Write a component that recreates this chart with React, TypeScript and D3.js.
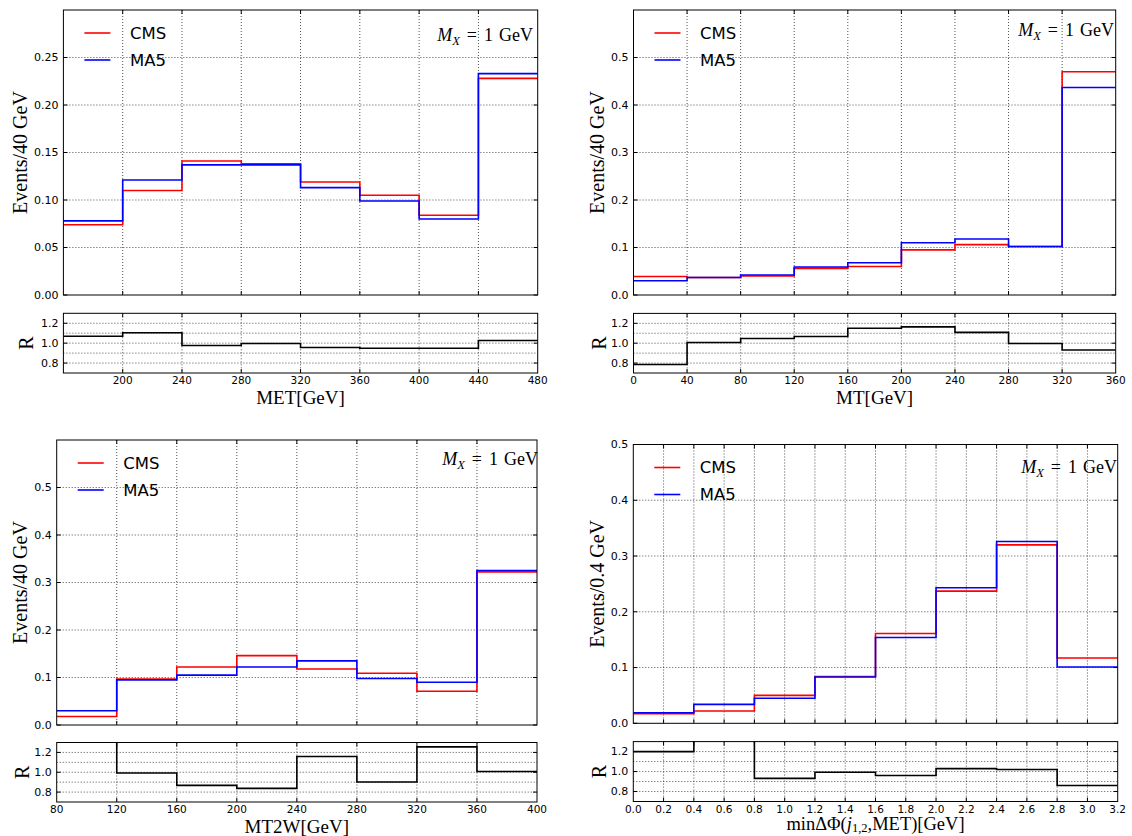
import React from 'react';
import * as d3 from 'd3';

// bin edges (tick values) and normalised event counts
const metEdges = [160, 200, 240, 280, 320, 360, 400, 440, 480];
const metCMS = [0.074, 0.110, 0.141, 0.138, 0.119, 0.105, 0.084, 0.228];
const metMA5 = [0.078, 0.121, 0.137, 0.137, 0.113, 0.099, 0.080, 0.233];
const metR = [1.07, 1.105, 0.976, 0.997, 0.956, 0.949, 0.949, 1.027];

const mtEdges = [0, 40, 80, 120, 160, 200, 240, 280, 320, 360];
const mtCMS = [0.039, 0.037, 0.040, 0.056, 0.060, 0.095, 0.106, 0.102, 0.470];
const mtMA5 = [0.030, 0.037, 0.042, 0.059, 0.068, 0.110, 0.118, 0.102, 0.437];
const mtR = [0.785, 1.007, 1.048, 1.068, 1.15, 1.164, 1.109, 0.997, 0.932];

const mt2wEdges = [80, 120, 160, 200, 240, 280, 320, 360, 400];
const mt2wCMS = [0.018, 0.097, 0.122, 0.146, 0.118, 0.109, 0.071, 0.322];
const mt2wMA5 = [0.030, 0.095, 0.105, 0.122, 0.135, 0.098, 0.090, 0.325];
const mt2wR = [1.68, 0.993, 0.868, 0.837, 1.159, 0.902, 1.256, 1.007];

const dphiEdges = [0, 0.4, 0.8, 1.2, 1.6, 2.0, 2.4, 2.8, 3.2];
const dphiCMS = [0.017, 0.022, 0.050, 0.084, 0.161, 0.237, 0.320, 0.117];
const dphiMA5 = [0.019, 0.034, 0.045, 0.083, 0.154, 0.243, 0.326, 0.101];
const dphiR = [1.20, 1.55, 0.932, 0.993, 0.961, 1.029, 1.021, 0.861];

const yTicks025 = [0, 0.05, 0.1, 0.15, 0.2, 0.25];
const yTicks05 = [0, 0.1, 0.2, 0.3, 0.4, 0.5];
const rTicks = [0.8, 1.0, 1.2];
const rGrid = [0.8, 0.9, 1.0, 1.1, 1.2];
const dphiTicks = [0, 0.2, 0.4, 0.6, 0.8, 1.0, 1.2, 1.4, 1.6, 1.8, 2.0, 2.2, 2.4, 2.6, 2.8, 3.0, 3.2];

const SERIF = '"Liberation Serif", "Times New Roman", serif';
const SANS = '"DejaVu Sans", "Bitstream Vera Sans", sans-serif';

const panels = [
  {
    id: 'met', edges: metEdges, cms: metCMS, ma5: metMA5, ratio: metR,
    yMax: 0.3, yTicks: yTicks025, yFmt: d3.format('.2f'),
    xTicks: metEdges, xLabels: metEdges.slice(1), xFmt: d3.format('d'),
    ylabel: 'Events/40 GeV', xlabel: 'MET[GeV]',
    box: { x0: 63.4, x1: 537.7, top: 10, bot: 295, rTop: 313.3, rBot: 373 },
    ylabelX: 20, rlabelX: 26, mx: { x: 533, y: 35 },
  },
  {
    id: 'mt', edges: mtEdges, cms: mtCMS, ma5: mtMA5, ratio: mtR,
    yMax: 0.6, yTicks: yTicks05, yFmt: d3.format('.1f'),
    xTicks: mtEdges, xLabels: mtEdges, xFmt: d3.format('d'),
    ylabel: 'Events/40 GeV', xlabel: 'MT[GeV]',
    box: { x0: 633.5, x1: 1115.7, top: 10, bot: 295, rTop: 313.4, rBot: 373 },
    ylabelX: 597, rlabelX: 599, mx: { x: 1114, y: 30 },
  },
  {
    id: 'mt2w', edges: mt2wEdges, cms: mt2wCMS, ma5: mt2wMA5, ratio: mt2wR,
    yMax: 0.6, yTicks: yTicks05, yFmt: d3.format('.1f'),
    xTicks: mt2wEdges, xLabels: mt2wEdges, xFmt: d3.format('d'),
    ylabel: 'Events/40 GeV', xlabel: 'MT2W[GeV]',
    box: { x0: 56.7, x1: 537, top: 440, bot: 725, rTop: 742.5, rBot: 802 },
    ylabelX: 20, rlabelX: 22, mx: { x: 538, y: 459 },
  },
  {
    id: 'dphi', edges: dphiEdges, cms: dphiCMS, ma5: dphiMA5, ratio: dphiR,
    yMax: 0.5, yTicks: yTicks05, yFmt: d3.format('.1f'),
    xTicks: dphiTicks, xLabels: dphiTicks, xFmt: d3.format('.1f'),
    ylabel: 'Events/0.4 GeV', xlabel: 'dphi',
    box: { x0: 633.3, x1: 1117.7, top: 444.5, bot: 723.3, rTop: 741.6, rBot: 801.5 },
    ylabelX: 597, rlabelX: 599, mx: { x: 1117, y: 467 },
  },
];

function stepPath(edges, values, x, y) {
  const pts = values.map((v, i) => [edges[i], v]);
  pts.push([edges[edges.length - 1], values[values.length - 1]]);
  const line = d3.line().x(d => x(d[0])).y(d => y(d[1])).curve(d3.curveStepAfter);
  return line(pts);
}

const gridStyle = { stroke: '#000', strokeWidth: 0.7, strokeDasharray: '1 2', fill: 'none' };

function Panel({ p }) {
  const b = p.box;
  const lo = p.edges[0], hi = p.edges[p.edges.length - 1];
  const x = d3.scaleLinear().domain([lo, hi]).range([b.x0, b.x1]);
  const y = d3.scaleLinear().domain([0, p.yMax]).range([b.bot, b.top]);
  const yr = d3.scaleLinear().domain([0.7, 1.3]).range([b.rBot, b.rTop]);
  const innerX = p.xTicks.filter(t => t > lo + 1e-9 && t < hi - 1e-9);
  const innerY = p.yTicks.filter(t => t > 0 && t < p.yMax - 1e-9);
  const tl = 4;

  return (
    <g>
      <defs>
        <clipPath id={`clip-main-${p.id}`}>
          <rect x={b.x0} y={b.top} width={b.x1 - b.x0} height={b.bot - b.top} />
        </clipPath>
        <clipPath id={`clip-r-${p.id}`}>
          <rect x={b.x0} y={b.rTop} width={b.x1 - b.x0} height={b.rBot - b.rTop} />
        </clipPath>
      </defs>

      {/* main plot grid */}
      {innerX.map(t => (
        <line key={'gx' + t} x1={x(t)} x2={x(t)} y1={b.top} y2={b.bot} style={gridStyle} />
      ))}
      {innerY.map(t => (
        <line key={'gy' + t} x1={b.x0} x2={b.x1} y1={y(t)} y2={y(t)} style={gridStyle} />
      ))}

      {/* histograms */}
      <g clipPath={`url(#clip-main-${p.id})`}>
        <path d={stepPath(p.edges, p.cms, x, y)} fill="none" stroke="#ff0000" strokeWidth={1.6} />
        <path d={stepPath(p.edges, p.ma5, x, y)} fill="none" stroke="#0000ff" strokeWidth={1.6} />
      </g>

      {/* ticks main */}
      {innerX.map(t => (
        <g key={'tx' + t}>
          <line x1={x(t)} x2={x(t)} y1={b.bot} y2={b.bot - tl} stroke="#000" />
          <line x1={x(t)} x2={x(t)} y1={b.top} y2={b.top + tl} stroke="#000" />
        </g>
      ))}
      {p.yTicks.map(t => (
        <g key={'ty' + t}>
          <line x1={b.x0} x2={b.x0 + tl} y1={y(t)} y2={y(t)} stroke="#000" />
          <line x1={b.x1} x2={b.x1 - tl} y1={y(t)} y2={y(t)} stroke="#000" />
          <text x={b.x0 - 5} y={y(t)} dy="0.35em" textAnchor="end" fontFamily={SANS} fontSize={11}>
            {p.yFmt(t)}
          </text>
        </g>
      ))}
      <rect x={b.x0} y={b.top} width={b.x1 - b.x0} height={b.bot - b.top} fill="none" stroke="#000" strokeWidth={1} />

      {/* legend */}
      <line x1={b.x0 + 21} x2={b.x0 + 47} y1={b.top + 23} y2={b.top + 23} stroke="#ff0000" strokeWidth={1.6} />
      <text x={b.x0 + 66.5} y={b.top + 23} dy="0.35em" fontFamily={SANS} fontSize={16.5}>CMS</text>
      <line x1={b.x0 + 21} x2={b.x0 + 47} y1={b.top + 50} y2={b.top + 50} stroke="#0000ff" strokeWidth={1.6} />
      <text x={b.x0 + 66.5} y={b.top + 50} dy="0.35em" fontFamily={SANS} fontSize={16.5}>MA5</text>

      {/* M_X annotation */}
      <text x={p.mx.x} y={p.mx.y + 6} textAnchor="end" fontFamily={SERIF} fontSize={18}>
        <tspan fontStyle="italic">M</tspan>
        <tspan fontStyle="italic" fontSize={12.5} dy={4}>X</tspan>
        <tspan dy={-4} dx={7}>=</tspan>
        <tspan dx={7}>1</tspan>
        <tspan dx={6}>GeV</tspan>
      </text>

      {/* y label */}
      <text transform={`translate(${p.ylabelX},${(b.top + b.bot) / 2}) rotate(-90)`} dy="0.35em"
        textAnchor="middle" fontFamily={SERIF} fontSize={20}>{p.ylabel}</text>

      {/* ratio panel */}
      {innerX.map(t => (
        <line key={'rgx' + t} x1={x(t)} x2={x(t)} y1={b.rTop} y2={b.rBot} style={gridStyle} />
      ))}
      {rGrid.map(t => (
        <line key={'rgy' + t} x1={b.x0} x2={b.x1} y1={yr(t)} y2={yr(t)} style={gridStyle} />
      ))}
      <g clipPath={`url(#clip-r-${p.id})`}>
        <path d={stepPath(p.edges, p.ratio, x, yr)} fill="none" stroke="#000" strokeWidth={1.6} />
      </g>
      {innerX.map(t => (
        <g key={'rtx' + t}>
          <line x1={x(t)} x2={x(t)} y1={b.rBot} y2={b.rBot - tl} stroke="#000" />
          <line x1={x(t)} x2={x(t)} y1={b.rTop} y2={b.rTop + tl} stroke="#000" />
        </g>
      ))}
      {rTicks.map(t => (
        <g key={'rty' + t}>
          <line x1={b.x0} x2={b.x0 + tl} y1={yr(t)} y2={yr(t)} stroke="#000" />
          <line x1={b.x1} x2={b.x1 - tl} y1={yr(t)} y2={yr(t)} stroke="#000" />
          <text x={b.x0 - 5} y={yr(t)} dy="0.35em" textAnchor="end" fontFamily={SANS} fontSize={11}>
            {d3.format('.1f')(t)}
          </text>
        </g>
      ))}
      {p.xLabels.map(t => (
        <text key={'rxl' + t} x={x(t)} y={b.rBot + 7.5} dy="0.35em" textAnchor="middle"
          fontFamily={SANS} fontSize={10.5}>{p.xFmt(t)}</text>
      ))}
      <rect x={b.x0} y={b.rTop} width={b.x1 - b.x0} height={b.rBot - b.rTop} fill="none" stroke="#000" strokeWidth={1} />
      <text transform={`translate(${p.rlabelX},${(b.rTop + b.rBot) / 2}) rotate(-90)`} dy="0.35em"
        textAnchor="middle" fontFamily={SERIF} fontSize={20}>R</text>

      {/* x label */}
      {p.xlabel === 'dphi' ? (
        <text x={(b.x0 + b.x1) / 2} y={b.rBot + 22.5} dy="0.35em" textAnchor="middle" fontFamily={SERIF} fontSize={18.5}>
          <tspan>minΔΦ(</tspan>
          <tspan fontStyle="italic">j</tspan>
          <tspan fontSize={12.5} dy={2}>1,2</tspan>
          <tspan dy={-2}>,MET)[GeV]</tspan>
        </text>
      ) : (
        <text x={(b.x0 + b.x1) / 2} y={b.rBot + 24} dy="0.35em" textAnchor="middle" fontFamily={SERIF} fontSize={19}>
          {p.xlabel}
        </text>
      )}
    </g>
  );
}

export default function App() {
  return (
    <svg width={1132} height={836} style={{ position: 'absolute', left: 0, top: 0, background: '#fff' }}>
      <rect width={1132} height={836} fill="#fff" />
      {panels.map(p => <Panel key={p.id} p={p} />)}
    </svg>
  );
}
